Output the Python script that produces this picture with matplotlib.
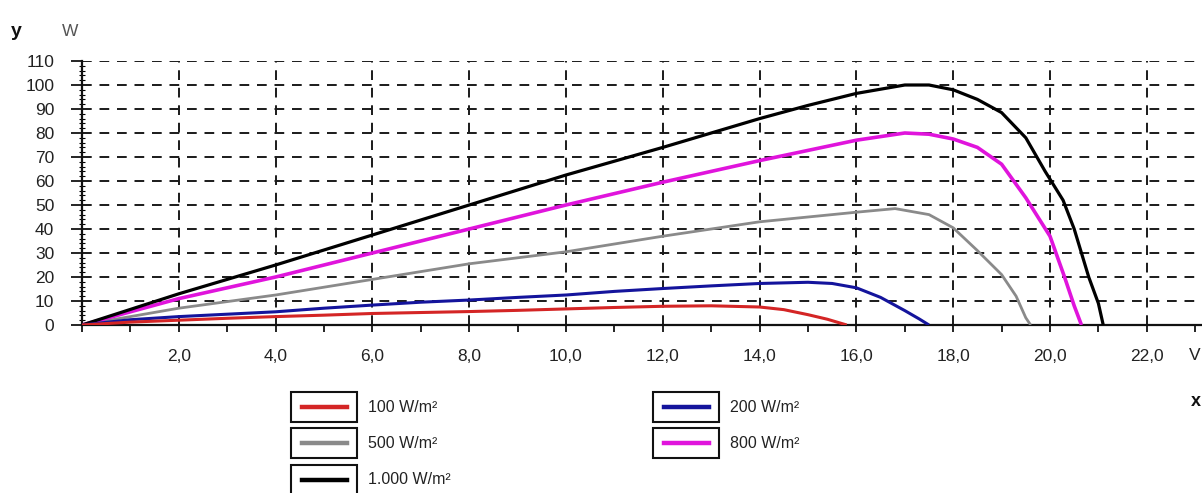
import matplotlib

matplotlib.use("Agg")
import matplotlib.pyplot as plt
from matplotlib.patches import Rectangle
from matplotlib.lines import Line2D
import numpy as np

plt.rcParams["font.family"] = ["Liberation Sans", "DejaVu Sans"]

# voltage (V) / power (W), one pair of lists per irradiance
v_100 = [0, 1, 2, 3, 4, 5, 6, 7, 8, 9, 10, 11, 12, 13, 14, 14.5, 15, 15.4, 15.8]
p_100 = [0, 1.2, 2, 2.8, 3.5, 4.1, 4.8, 5.2, 5.6, 6.1, 6.7, 7.3, 7.8, 8.0, 7.5, 6.4, 4.3, 2.4, 0]

v_200 = [0, 1, 2, 3, 4, 5, 6, 7, 8, 9, 10, 11, 12, 13, 14, 15, 15.5, 16, 16.5, 17, 17.3, 17.5]
p_200 = [0, 2.2, 3.5, 4.5, 5.5, 7, 8.3, 9.5, 10.4, 11.5, 12.5, 14, 15.2, 16.3, 17.3, 17.8, 17.3, 15.5, 11.5, 6, 2.5, 0]

v_500 = [0, 2, 4, 6, 8, 10, 12, 14, 16, 16.8, 17.5, 18, 18.5, 19, 19.3, 19.5, 19.6]
p_500 = [0, 7, 12.5, 19, 25.5, 30.5, 37, 43, 47, 48.5, 46, 40.5, 31, 21, 12, 3, 0]

v_800 = [0, 2, 4, 6, 8, 10, 12, 14, 16, 17, 17.5, 18, 18.5, 19, 19.5, 20, 20.3, 20.5, 20.65]
p_800 = [0, 11, 20, 30, 40, 50, 59.5, 68.5, 77, 80, 79.5, 77.5, 74, 67, 53, 37, 20, 8, 0]

v_1000 = [0, 2, 4, 6, 8, 10, 12, 14, 15, 16, 17, 17.5, 18, 18.5, 19, 19.5, 19.9, 20.27, 20.5, 20.8, 21.0, 21.1]
p_1000 = [0, 13, 25, 37.5, 50, 62.5, 74, 86, 91.5, 96.5, 100, 100, 98, 94, 88.5, 78, 64, 52, 40, 20, 9, 0]

series_labels = ["100 W/m²", "200 W/m²", "500 W/m²", "800 W/m²", "1.000 W/m²"]
series_colors = ["#d42525", "#14149c", "#8a8a8a", "#e014dc", "#000000"]
series_widths = [2.2, 2.2, 2.0, 2.6, 2.3]

x_ticks = np.arange(0, 24, 1)
x_labels = ["" if v % 2 or v == 0 else f"{v},0" for v in x_ticks]
y_ticks = np.arange(0, 120, 10)

W, H = 1202, 493
fig = plt.figure(figsize=(W / 100, H / 100), dpi=100)


def fx(px):
    return px / W


def fy(py):
    return 1 - py / H


ax_left, ax_right, ax_top, ax_bot = 82, 1202, 61, 325
ax = fig.add_axes([fx(ax_left), fy(ax_bot), fx(ax_right - ax_left), (ax_bot - ax_top) / H])

series = [(v_100, p_100), (v_200, p_200), (v_500, p_500), (v_800, p_800), (v_1000, p_1000)]
for i in [2, 3, 4, 1, 0]:
    v, p = series[i]
    ax.plot(v, p, color=series_colors[i], linewidth=series_widths[i], solid_capstyle="butt", zorder=3)

ax.set_xlim(0, (ax_right - ax_left) / 48.4)
ax.set_ylim(0, 110)

ax.set_xticks(x_ticks)
ax.set_xticklabels(x_labels)
ax.set_yticks(y_ticks)
ax.set_yticks(np.arange(0, 112, 2), minor=True)

for v in range(2, 24, 2):
    ax.axvline(v, color="#1a1a1a", linewidth=1.4, linestyle=(0, (5, 4)), zorder=1)
for p in range(10, 120, 10):
    ax.axhline(p, color="#1a1a1a", linewidth=1.4, linestyle=(0, (5, 4)), zorder=1)

for side in ["top", "right"]:
    ax.spines[side].set_visible(False)
for side in ["left", "bottom"]:
    ax.spines[side].set_linewidth(1.6)
    ax.spines[side].set_color("#111111")

ax.tick_params(axis="x", direction="out", length=5, width=1.2, labelsize=12.5,
               labelcolor="#222222", pad=12)
ax.tick_params(axis="y", which="major", direction="out", length=8, width=1.2,
               labelsize=12.5, labelcolor="#222222", pad=12)
ax.tick_params(axis="y", which="minor", direction="inout", length=5, width=0.8)

fig.text(fx(16), fy(31), "y", fontsize=14, fontweight="bold", color="#111111", ha="center", va="center")
fig.text(fx(70), fy(31), "W", fontsize=12.5, color="#555555", ha="center", va="center")
fig.text(fx(1195), fy(355), "V", fontsize=12.5, color="#222222", ha="center", va="center")
fig.text(fx(1196), fy(402), "x", fontsize=13, fontweight="bold", color="#111111", ha="center", va="center")

# legend: one framed swatch per entry, two columns
legend_slots = [(291, 407), (653, 407), (291, 443), (653, 443), (291, 480)]
for (bx, cy), label, color in zip(legend_slots, series_labels, series_colors):
    fig.add_artist(Rectangle((fx(bx), fy(cy + 15)), 66 / W, 30 / H, transform=fig.transFigure,
                             facecolor="white", edgecolor="#111111", linewidth=1.5))
    fig.add_artist(Line2D([fx(bx + 11), fx(bx + 56)], [fy(cy), fy(cy)], transform=fig.transFigure,
                          color=color, linewidth=3.2))
    fig.text(fx(bx + 77), fy(cy), label, fontsize=11.5, color="#222222", ha="left", va="center")

fig.savefig("out.png", dpi=100)
